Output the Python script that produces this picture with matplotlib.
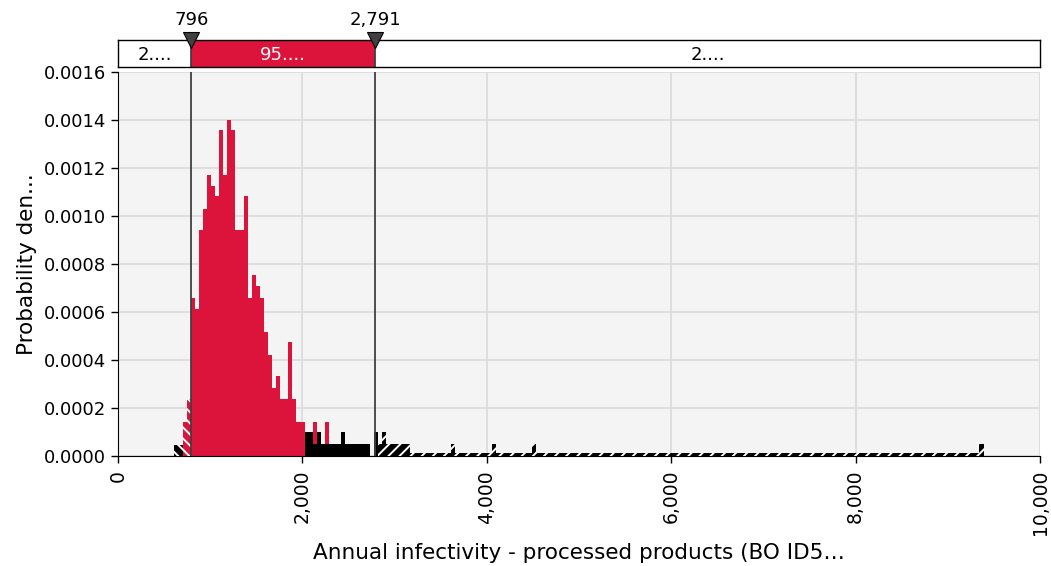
import matplotlib
matplotlib.use('Agg')
import matplotlib.pyplot as plt
from matplotlib.patches import Rectangle
from matplotlib.ticker import FuncFormatter

plt.rcParams['font.family'] = ['DejaVu Sans']
plt.rcParams['hatch.linewidth'] = 1.4

# histogram grid (shared by both series)
BIN_START = 612
BIN_WIDTH = 44.1

# main series (red), heights per bin starting at bin 2
red_first_bin = 2
red_heights = [0.000143, 0.000238, 0.000658, 0.000613, 0.000942, 0.00103, 0.00117,
               0.001127, 0.001083, 0.00136, 0.00117, 0.0014, 0.00136, 0.000942,
               0.000942, 0.001083, 0.00066, 0.000754, 0.000708, 0.00066, 0.000518,
               0.00042, 0.000285, 0.000333, 0.000239, 0.000239, 0.000476, 0.000239,
               0.00014, 0.00014, 0.00005, 0.00005, 0.00014, 0.00005, 0.00005, 0.00014]

# overlay series (black)
black_bins = [0, 1, 32, 33, 34, 35, 36, 37, 38, 39, 40, 41, 42, 43, 44, 45, 46, 47,
              49, 50, 51, 52, 53, 54, 55, 56, 57, 68, 78, 88, 198]
black_vals = [4.6e-5, 4.6e-5, 1e-4, 1e-4, 5e-5, 1e-4, 5e-5, 5e-5, 5e-5, 5e-5, 5e-5,
              1e-4, 5e-5, 5e-5, 5e-5, 5e-5, 5e-5, 5e-5,
              1e-4, 5e-5, 1e-4, 5e-5, 5e-5, 5e-5, 5e-5, 5e-5, 5e-5,
              5e-5, 5e-5, 5e-5, 5e-5]
black_tail_bins = (58, 198)
black_tail_val = 1.1e-5

# delimiters and band texts
low_cut, high_cut = 796, 2791
band_labels = ['2....', '95....', '2....']

RED = '#dc143c'
DARK = '#404040'


def bar_style(left, color):
    right = left + BIN_WIDTH
    if right <= low_cut + 1:
        return dict(color=color, edgecolor='white', hatch='\\\\\\', linewidth=0)
    if left >= high_cut:
        return dict(color=color, edgecolor='white', hatch='///', linewidth=0)
    return dict(color=color, linewidth=0)


W, H = 1051, 566
fig = plt.figure(figsize=(W / 100, H / 100), dpi=100)
ax = fig.add_axes([118 / W, 1 - 456 / H, (1040 - 118) / W, (456 - 72) / H])
ax.set_facecolor('#f4f4f4')

# red bars
for i, h in enumerate(red_heights):
    left = BIN_START + (red_first_bin + i) * BIN_WIDTH
    ax.bar(left, h, width=BIN_WIDTH, align='edge', zorder=2, **bar_style(left, RED))

# black bars
tail = [b for b in range(black_tail_bins[0], black_tail_bins[1]) if b not in black_bins]
for b, h in list(zip(black_bins, black_vals)) + [(b, black_tail_val) for b in tail]:
    left = BIN_START + b * BIN_WIDTH
    ax.bar(left, h, width=BIN_WIDTH, align='edge', zorder=3, **bar_style(left, 'black'))

for c in (low_cut, high_cut):
    ax.axvline(c, color=DARK, lw=1.3, zorder=5)

ax.set_xlim(0, 10000)
ax.set_ylim(0, 0.0016)
ax.set_xticks(range(0, 10001, 2000))
ax.set_yticks([i * 0.0002 for i in range(9)])
ax.xaxis.set_major_formatter(FuncFormatter(lambda v, p: f'{int(v):,}'))
ax.yaxis.set_major_formatter(FuncFormatter(lambda v, p: f'{v:.4f}'))
ax.grid(True, color='#dcdcdc', lw=1.3, zorder=0)
ax.set_axisbelow(True)
for s in ('top', 'right'):
    ax.spines[s].set_visible(False)
ax.tick_params(axis='y', length=5, width=1, pad=3.5, labelsize=13)
ax.tick_params(axis='x', length=5, width=1, pad=5, labelsize=13.5, labelrotation=90)
for lab in ax.get_xticklabels():
    lab.set_va('top')

ax.set_ylabel('Probability den...', fontsize=15.5, labelpad=5)
fig.text(579 / W, 1 - 553 / H, 'Annual infectivity - processed products (BO ID5…',
         ha='center', va='center', fontsize=15.5)

# delimiter band above the plot
band = fig.add_axes([118 / W, 1 - 67 / H, (1040 - 118) / W, 27 / H])
band.set_xlim(0, 10000)
band.set_ylim(0, 1)
band.set_xticks([])
band.set_yticks([])
segs = [(0, low_cut, 'white', 'black'), (low_cut, high_cut, RED, 'white'),
        (high_cut, 10000, 'white', 'black')]
for (x0, x1, fc, tc), txt in zip(segs, band_labels):
    band.add_patch(Rectangle((x0, 0), x1 - x0, 1, facecolor=fc, edgecolor='none'))
    band.text((x0 + x1) / 2, 0.45, txt, ha='center', va='center', color=tc, fontsize=13)
for c in (low_cut, high_cut):
    band.axvline(c, color=DARK, lw=1.3)
    band.plot(c, 1.0, marker='v', markersize=11, color=DARK, markeredgecolor='black',
              markeredgewidth=0.8, clip_on=False, zorder=6)
    band.annotate(f'{c:,}', (c, 1.0), xytext=(0, 8), textcoords='offset points',
                  ha='center', va='bottom', fontsize=13, annotation_clip=False)
for s in band.spines.values():
    s.set_color('black')
    s.set_linewidth(1)

fig.savefig('out.png', dpi=100)
